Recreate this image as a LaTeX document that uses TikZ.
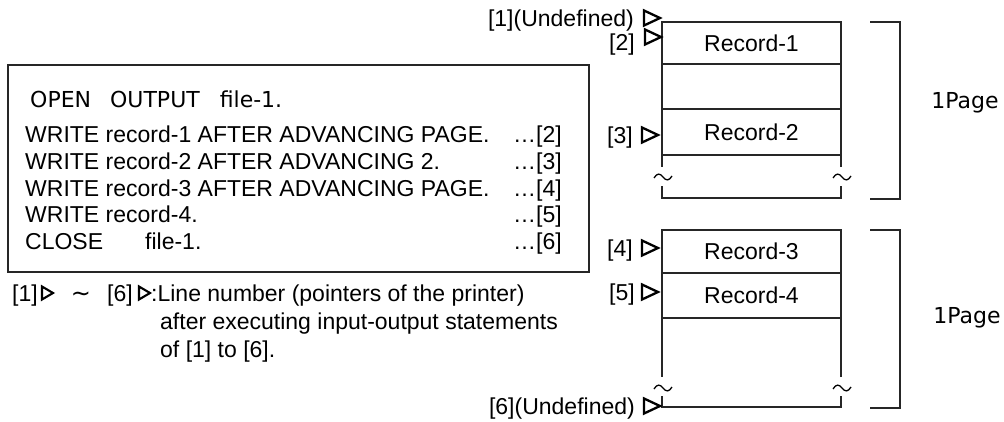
\documentclass[tikz,border=0pt]{standalone}
\usepackage{fontspec}
\setmainfont{Liberation Sans}
\newfontfamily\gothic{DejaVu Sans}
\begin{document}
\begin{tikzpicture}[x=1pt,y=-1pt,
  txt/.style={font=\fontsize{23}{27}\selectfont, inner sep=0pt},
  gtxt/.style={font=\gothic\fontsize{22}{26}\selectfont, inner sep=0pt},
  rowbox/.style={draw=black!85, line width=1.5pt, minimum width=179pt, inner sep=0pt, outer sep=0pt, font=\fontsize{23}{27}\selectfont},
  recline/.style={draw=black!85, line width=1.5pt},
  bracketline/.style={draw=black!85, line width=1.5pt},
  ptrtri/.pic={\draw[line width=2.3pt, line join=miter] (-16,-7.5) -- (0,0) -- (-16,7.5) -- cycle;},
  ptrsmall/.pic={\draw[line width=2.1pt, line join=miter] (-11,-6.5) -- (0,0) -- (-11,6.5) -- cycle;},
  brkmark/.pic={\draw[line width=1.3pt] (-9,1) .. controls (-6,-4) and (-3,-4) .. (0,0) .. controls (3,4) and (6,4) .. (9,-1);}
]
\useasboundingbox (0,0) rectangle (1004,421);

% code box
\node[draw=black!85, line width=2pt, minimum width=581pt, minimum height=207pt, inner sep=0pt] (codebox) at (298.5,168.5) {};
\node[gtxt, anchor=base west] (open) at (30,107) {OPEN\hspace{19pt}OUTPUT\hspace{20pt}file-1.};
\node[txt, anchor=base west] (w1) at (25,142) {WRITE record-1 AFTER ADVANCING PAGE.};
\node[txt, anchor=base west] (w2) at (25,169) {WRITE record-2 AFTER ADVANCING 2.};
\node[txt, anchor=base west] (w3) at (25,196) {WRITE record-3 AFTER ADVANCING PAGE.};
\node[txt, anchor=base west] (w4) at (25,222) {WRITE record-4.};
\node[txt, anchor=base west] (cl) at (25,249) {CLOSE\hspace{42pt}file-1.};
\node[txt, anchor=base east] (n2) at (562,142) {\ldots[2]};
\node[txt, anchor=base east] (n3) at (562,169) {\ldots[3]};
\node[txt, anchor=base east] (n4) at (562,196) {\ldots[4]};
\node[txt, anchor=base east] (n5) at (562,222) {\ldots[5]};
\node[txt, anchor=base east] (n6) at (562,249) {\ldots[6]};

% legend
\node[txt, anchor=base west] (lg1) at (12,301) {[1]};
\pic at (53,293) {ptrsmall};
\node[txt, anchor=base, font=\gothic\fontsize{24}{27}\selectfont] (lgt) at (81,301) {∼};
\node[txt, anchor=base west] (lg6) at (107,301) {[6]};
\pic at (150,293) {ptrsmall};
\node[txt, anchor=base west] (lga) at (151,301) {:Line number (pointers of the printer)};
\node[txt, anchor=base west] (lgb) at (160,329) {after executing input-output statements};
\node[txt, anchor=base west] (lgc) at (160,357) {of [1] to [6].};

% page 1
\node[rowbox, minimum height=42pt] (r1) at (751.5,43) {Record-1};
\node[rowbox, minimum height=45pt] (e1) at (751.5,86.5) {};
\node[rowbox, minimum height=46pt] (r2) at (751.5,132) {Record-2};
\draw[recline] (r2.south west) -- (662,167) (662,186) -- (662,198) -- (841,198) -- (841,186) (841,167) -- (r2.south east);
\pic at (663,177) {brkmark};
\pic at (842,177) {brkmark};

% page 2
\node[rowbox, minimum height=43pt] (r3) at (751.5,251.5) {Record-3};
\node[rowbox, minimum height=45pt] (r4) at (751.5,295.5) {Record-4};
\draw[recline] (r4.south west) -- (662,377) (662,396) -- (662,407) -- (841,407) -- (841,396) (841,377) -- (r4.south east);
\pic at (663,388) {brkmark};
\pic at (842,388) {brkmark};

% pointers
\node[txt, anchor=base east] (p1) at (634,26) {[1](Undefined)};
\pic at (660,18) {ptrtri};
\node[txt, anchor=base east] (p2) at (635,50) {[2]};
\pic at (661,37) {ptrtri};
\node[txt, anchor=base east] (p3) at (633,143) {[3]};
\pic at (658,135) {ptrtri};
\node[txt, anchor=base east] (p4) at (633,256) {[4]};
\pic at (658,248) {ptrtri};
\node[txt, anchor=base east] (p5) at (635,300) {[5]};
\pic at (658,292) {ptrtri};
\node[txt, anchor=base east] (p6) at (635,414) {[6](Undefined)};
\pic at (660,406) {ptrtri};

% brackets
\draw[bracketline] (870,22) -- (900,22) -- (900,199) -- (870,199);
\draw[bracketline] (870,230) -- (900,230) -- (900,408) -- (870,408);
\node[gtxt] (pg1) at (965,103) {1Page};
\node[gtxt] (pg2) at (967,318) {1Page};
\end{tikzpicture}
\end{document}
